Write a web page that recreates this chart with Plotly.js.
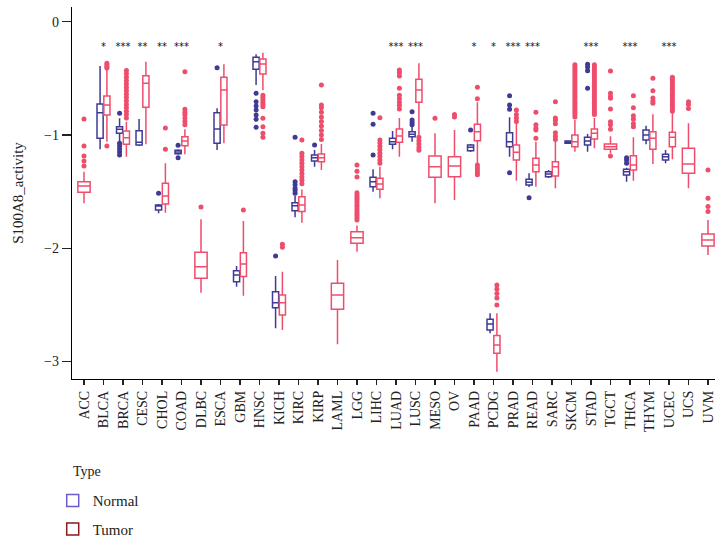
<!DOCTYPE html>
<html>
<head>
<meta charset="utf-8">
<script src="https://cdn.plot.ly/plotly-3.0.1.min.js"></script>
<style>html,body{margin:0;padding:0;background:#fff;overflow:hidden}#chart{width:715px;height:543px}</style>
</head>
<body>
<div id="chart"></div>
<script>
var categories = ['ACC','BLCA','BRCA','CESC','CHOL','COAD','DLBC','ESCA','GBM','HNSC','KICH','KIRC','KIRP','LAML','LGG','LIHC','LUAD','LUSC','MESO','OV','PAAD','PCDG','PRAD','READ','SARC','SKCM','STAD','TGCT','THCA','THYM','UCEC','UCS','UVM'];

// Tumor statistics (one per category, same order as categories)
var tumorQ1  = [-1.506,-0.824,-1.082,-0.755,-1.609,-1.094,-2.265,-0.912,-2.250,-0.462,-2.589,-1.676,-1.236,-2.538,-1.956,-1.479,-1.064,-0.711,-1.373,-1.368,-1.050,-2.927,-1.221,-1.324,-1.362,-1.103,-1.035,-1.126,-1.309,-1.126,-1.103,-1.338,-1.980];
var tumorMed = [-1.450,-0.735,-1.024,-0.544,-1.538,-1.053,-2.162,-0.603,-2.139,-0.373,-2.480,-1.618,-1.200,-2.412,-1.906,-1.432,-1.009,-0.603,-1.280,-1.274,-0.971,-2.853,-1.153,-1.265,-1.280,-1.059,-0.985,-1.103,-1.265,-1.029,-1.020,-1.256,-1.927];
var tumorQ3  = [-1.412,-0.656,-0.965,-0.477,-1.426,-1.015,-2.035,-0.491,-2.039,-0.329,-2.412,-1.545,-1.168,-2.309,-1.853,-1.382,-0.947,-0.508,-1.185,-1.192,-0.906,-2.771,-1.088,-1.206,-1.236,-1.000,-0.947,-1.079,-1.183,-0.971,-0.976,-1.117,-1.874];
var tumorLo  = [-1.603,-1.059,-1.192,-1.082,-1.686,-1.170,-2.392,-1.073,-2.418,-0.604,-2.721,-1.774,-1.309,-2.847,-2.030,-1.559,-1.192,-1.000,-1.603,-1.574,-1.250,-3.089,-1.403,-1.456,-1.470,-1.147,-1.117,-1.160,-1.403,-1.256,-1.214,-1.470,-2.059];
var tumorHi  = [-1.324,-0.426,-0.883,-0.353,-1.250,-0.950,-1.744,-0.376,-1.759,-0.274,-2.207,-1.480,-1.080,-2.103,-1.800,-1.280,-0.850,-0.367,-0.985,-0.956,-0.710,-2.574,-0.897,-1.059,-1.059,-0.868,-0.850,-1.010,-1.020,-0.817,-0.800,-0.897,-1.750];
var tumorOut = [
  [-0.859,-1.097,-1.185,-1.230,-1.274],
  [-0.367,-0.383,-0.397,-0.409,-1.097],
  [-0.43,-0.46,-0.49,-0.52,-0.55,-0.58,-0.61,-0.64,-0.67,-0.70,-0.73,-0.76,-0.79,-0.82,-0.85],
  [],
  [-0.938,-1.126],
  [-0.441,-0.773,-0.80,-0.82,-0.85,-0.88,-0.91],
  [-1.635],
  [],
  [-1.662],
  [-0.65,-0.67,-0.69,-0.71,-0.73,-0.75,-0.853,-0.927,-0.985,-1.02],
  [-1.965,-1.99],
  [-1.044,-1.16,-1.19,-1.22,-1.25,-1.28,-1.31,-1.34,-1.37,-1.40,-1.43],
  [-0.559,-0.735,-0.76,-0.80,-0.84,-0.88,-0.92,-0.96,-1.00,-1.04],
  [],
  [-1.265,-1.32,-1.37,-1.51,-1.53,-1.55,-1.57,-1.59,-1.61,-1.63,-1.65,-1.67,-1.69,-1.71,-1.73,-1.75],
  [-0.847,-1.044,-1.07,-1.10,-1.13,-1.16,-1.19,-1.22,-1.25],
  [-0.426,-0.45,-0.48,-0.588,-0.65,-0.68,-0.71,-0.74,-0.77],
  [-1.02,-1.05,-1.08,-1.11,-1.135],
  [-0.853],
  [-0.82,-0.84],
  [-0.579,-0.68,-1.265,-1.29,-1.31,-1.33,-1.35],
  [-2.324,-2.36,-2.40,-2.44,-2.50],
  [-0.779,-0.82,-0.85,-0.88],
  [-0.800,-0.91,-0.94,-0.956,-1.029],
  [-0.706,-0.85,-0.87,-0.90,-0.98,-1.01,-1.04],
  [-0.38,-0.40,-0.42,-0.44,-0.46,-0.48,-0.50,-0.52,-0.54,-0.56,-0.58,-0.60,-0.62,-0.64,-0.66,-0.68,-0.70,-0.72,-0.74,-0.76,-0.78,-0.80,-0.82,-0.84],
  [-0.38,-0.40,-0.42,-0.44,-0.46,-0.48,-0.50,-0.52,-0.54,-0.56,-0.58,-0.60,-0.62,-0.64,-0.66,-0.68,-0.70,-0.72,-0.74,-0.76,-0.78,-0.80,-0.82],
  [-0.435,-0.632,-0.66,-0.676,-0.771,-0.883,-0.91,-0.95,-1.185],
  [-0.653,-0.759,-0.83,-0.86,-0.90,-0.927],
  [-0.500,-0.609,-0.673,-0.70,-0.720],
  [-0.49,-0.51,-0.53,-0.55,-0.57,-0.59,-0.61,-0.63,-0.65,-0.67,-0.69,-0.71,-0.73,-0.75,-0.77,-0.79],
  [-0.706,-0.73,-0.765],
  [-1.309,-1.559,-1.632,-1.676]
];

// Normal statistics (only the categories that have normal samples)
var normalCats = ['BLCA','BRCA','CESC','CHOL','COAD','ESCA','GBM','HNSC','KICH','KIRC','KIRP','LIHC','LUAD','LUSC','PAAD','PCDG','PRAD','READ','SARC','SKCM','STAD','THCA','THYM','UCEC'];
var normalQ1  = [-1.029,-0.985,-1.088,-1.662,-1.165,-1.073,-2.295,-0.420,-2.524,-1.668,-1.230,-1.456,-1.082,-1.015,-1.138,-2.721,-1.103,-1.441,-1.368,-1.073,-1.088,-1.353,-1.044,-1.221];
var normalMed = [-0.803,-0.950,-1.064,-1.627,-1.150,-0.947,-2.236,-0.353,-2.480,-1.624,-1.200,-1.412,-1.059,-0.994,-1.109,-2.668,-1.059,-1.417,-1.344,-1.062,-1.053,-1.324,-1.000,-1.192];
var normalQ3  = [-0.726,-0.927,-0.962,-1.618,-1.135,-0.803,-2.198,-0.314,-2.383,-1.598,-1.177,-1.373,-1.029,-0.971,-1.088,-2.627,-0.980,-1.391,-1.324,-1.053,-1.020,-1.303,-0.956,-1.170];
var normalLo  = [-1.126,-1.059,-1.097,-1.691,-1.175,-1.132,-2.339,-0.559,-2.706,-1.726,-1.280,-1.500,-1.126,-1.059,-1.150,-2.750,-1.192,-1.460,-1.380,-1.075,-1.147,-1.412,-1.082,-1.250];
var normalHi  = [-0.391,-0.853,-0.859,-1.609,-1.125,-0.764,-2.156,-0.288,-2.245,-1.536,-1.132,-1.303,-0.965,-0.927,-1.080,-2.574,-0.844,-1.338,-1.310,-1.050,-0.991,-1.290,-0.918,-1.132];
var normalOut = [
  [],
  [-0.808,-1.073,-1.097,-1.124,-1.150,-1.177],
  [],
  [-1.515],
  [-1.09,-1.20],
  [-0.406],
  [],
  [-0.632,-0.706,-0.744,-0.779,-0.823,-0.861,-0.932],
  [-2.068],
  [-1.020,-1.412,-1.44,-1.47,-1.49,-1.515],
  [-1.088],
  [-0.808,-0.906,-1.177],
  [],
  [-0.794,-0.868,-0.89,-0.91],
  [-0.956],
  [],
  [-0.653,-0.735,-0.773,-1.333],
  [-1.553],
  [],
  [],
  [-0.376,-0.40,-0.432,-0.588],
  [-1.20,-1.22,-1.25],
  [],
  []
];

// Significance labels
var sigCats   = ['BLCA','BRCA','CESC','CHOL','COAD','ESCA','LUAD','LUSC','PAAD','PCDG','PRAD','READ','STAD','THCA','UCEC'];
var sigLabels = ['*','***','**','**','***','*','***','***','*','*','***','***','***','***','***'];
var sigLevel  = -0.23;

var NORMAL = '#3E3A96', TUMOR = '#EE4D6B';
var FONT = '"Liberation Serif", "Times New Roman", serif';

// split tumor data into paired (with normal) and tumor-only
function pick(arr, keep) { return arr.filter(function(_, i) { return keep(categories[i]); }); }
var hasNormal = function(c) { return normalCats.indexOf(c) >= 0; };
var noNormal = function(c) { return normalCats.indexOf(c) < 0; };
// rows with no outliers get a single empty placeholder so the 2-D sample array stays regular
function rows(out) { return out.map(function(r) { return r.length ? r : [null]; }); }

function boxTrace(name, color, xs, q1, med, q3, lo, hi, out, xaxis, og) {
  return {
    type: 'box', name: name, x: xs, q1: q1, median: med, q3: q3,
    lowerfence: lo, upperfence: hi, y: rows(out),
    boxpoints: 'outliers', jitter: 0, pointpos: 0, whiskerwidth: 0,
    offsetgroup: og, alignmentgroup: xaxis,
    line: {color: color, width: 1.5}, fillcolor: '#ffffff',
    marker: {color: color, size: 5, line: {width: 0}},
    xaxis: xaxis, yaxis: 'y', showlegend: false, hoverinfo: 'skip'
  };
}

var traces = [
  boxTrace('Normal', NORMAL, normalCats, normalQ1, normalMed, normalQ3, normalLo, normalHi, normalOut, 'x', 'n'),
  boxTrace('Tumor', TUMOR, pick(categories, hasNormal), pick(tumorQ1, hasNormal), pick(tumorMed, hasNormal), pick(tumorQ3, hasNormal), pick(tumorLo, hasNormal), pick(tumorHi, hasNormal), pick(tumorOut, hasNormal), 'x', 't'),
  boxTrace('Tumor', TUMOR, pick(categories, noNormal), pick(tumorQ1, noNormal), pick(tumorMed, noNormal), pick(tumorQ3, noNormal), pick(tumorLo, noNormal), pick(tumorHi, noNormal), pick(tumorOut, noNormal), 'x2', 'o'),
  {
    type: 'scatter', mode: 'text', x: sigCats, y: sigCats.map(function() { return sigLevel; }),
    text: sigLabels, textposition: 'middle center',
    textfont: {family: 'DejaVu Sans, sans-serif', size: 10, color: '#111'},
    xaxis: 'x', yaxis: 'y', showlegend: false, hoverinfo: 'skip', cliponaxis: false
  },
  // legend keys
  {type: 'box', name: 'Normal', x: ['ACC'], q1: [5], median: [5.5], q3: [6], lowerfence: [4.5], upperfence: [6.5],
   line: {color: '#6A5ACD', width: 1.5}, fillcolor: '#ffffff', xaxis: 'x3', yaxis: 'y', legendgroup: 'n', hoverinfo: 'skip'},
  {type: 'box', name: 'Tumor', x: ['ACC'], q1: [5], median: [5.5], q3: [6], lowerfence: [4.5], upperfence: [6.5],
   line: {color: '#8B1A1A', width: 1.5}, fillcolor: '#ffffff', xaxis: 'x3', yaxis: 'y', legendgroup: 't', hoverinfo: 'skip'}
];

var xr = [-0.615, 32.36];
var hiddenAxis = {overlaying: 'x', anchor: 'y', range: xr, type: 'category', categoryorder: 'array', categoryarray: categories, visible: false, showgrid: false, zeroline: false};

var layout = {
  width: 715, height: 543,
  margin: {l: 72, r: 0, t: 7, b: 164, autoexpand: false},
  paper_bgcolor: '#ffffff', plot_bgcolor: '#ffffff',
  font: {family: FONT, color: '#222', size: 14},
  boxmode: 'group', boxgap: 0.3, boxgroupgap: 0.1,
  xaxis: {
    type: 'category', categoryorder: 'array', categoryarray: categories, range: xr, automargin: false,
    showline: true, linecolor: '#000', linewidth: 1.2, ticks: 'outside', ticklen: 5, tickwidth: 1.2, tickcolor: '#222',
    tickangle: -90, tickfont: {family: FONT, size: 14, color: '#222'}, showgrid: false, zeroline: false
  },
  xaxis2: hiddenAxis,
  xaxis3: Object.assign({}, hiddenAxis),
  yaxis: {
    range: [-3.154, 0.13], tickvals: [0, -1, -2, -3], ticktext: ['0', '\u22121', '\u22122', '\u22123'], automargin: false,
    showline: true, linecolor: '#000', linewidth: 1.2, ticks: 'outside', ticklen: 9, tickwidth: 1.2, tickcolor: '#222',
    tickfont: {family: FONT, size: 14, color: '#222'}, showgrid: false, zeroline: false,
    title: {text: 'S100A8_activity', font: {family: FONT, size: 15, color: '#222'}, standoff: 16}
  },
  showlegend: true,
  legend: {x: -0.03, xanchor: 'left', y: -0.283, yanchor: 'top', orientation: 'v',
    font: {family: FONT, size: 15, color: '#222'}, traceorder: 'grouped', tracegroupgap: 6,
    bgcolor: 'rgba(0,0,0,0)'},
  annotations: [{text: 'Type', xref: 'paper', yref: 'paper', x: -0.002, y: -0.249, xanchor: 'left', yanchor: 'middle',
    showarrow: false, font: {family: FONT, size: 14, color: '#222'}}]
};

Plotly.newPlot('chart', traces, layout, {displayModeBar: false, staticPlot: true});
</script>
</body>
</html>
